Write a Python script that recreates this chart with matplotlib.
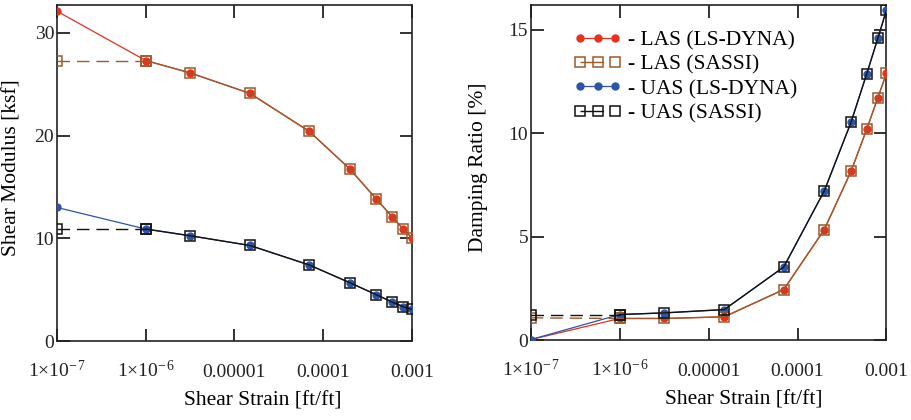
import numpy as np
import matplotlib
matplotlib.use("Agg")
import matplotlib.pyplot as plt

plt.rcParams['font.family'] = ['Liberation Serif', 'DejaVu Serif']
plt.rcParams['mathtext.fontset'] = 'custom'
plt.rcParams['mathtext.rm'] = 'Liberation Serif'
plt.rcParams['mathtext.it'] = 'Liberation Serif'
plt.rcParams['font.size'] = 14

# shear strain [ft/ft]
strain = [1e-7, 1e-6, 3.16e-6, 1.5e-5, 7e-5, 2e-4, 4e-4, 6e-4, 8e-4, 1e-3]

# shear modulus [ksf]
G_las_dyna = [32.1, 27.3, 26.1, 24.1, 20.4, 16.75, 13.8, 12.1, 10.9, 10.06]
G_las_sassi = [27.3, 27.3, 26.1, 24.1, 20.4, 16.75, 13.8, 12.1, 10.9, 10.06]
G_uas_dyna = [13.0, 10.9, 10.25, 9.3, 7.4, 5.68, 4.5, 3.8, 3.34, 3.09]
G_uas_sassi = [10.9, 10.9, 10.25, 9.3, 7.4, 5.68, 4.5, 3.8, 3.34, 3.09]

# damping ratio [%]
D_las_dyna = [0.03, 1.05, 1.05, 1.13, 2.45, 5.35, 8.17, 10.2, 11.72, 12.9]
D_las_sassi = [1.08, 1.05, 1.05, 1.13, 2.45, 5.35, 8.17, 10.2, 11.72, 12.9]
D_uas_dyna = [0.03, 1.24, 1.32, 1.48, 3.54, 7.22, 10.54, 12.88, 14.59, 15.96]
D_uas_sassi = [1.24, 1.24, 1.32, 1.48, 3.54, 7.22, 10.54, 12.88, 14.59, 15.96]

xticks = [1e-7, 1e-6, 1e-5, 1e-4, 1e-3]
xticklabels = [r"$1{\times}10^{-\,7}$", r"$1{\times}10^{-\,6}$", "0.00001", "0.0001", "0.001"]

red = '#e8301c'
brown = '#9c5a2c'
blue = '#2a55a8'
black = '#111111'


def draw_pair(ax, y_dyna, y_sassi, c_dyna, c_sassi, lab_dyna, lab_sassi):
    ax.plot(strain, y_dyna, color=c_dyna, lw=0.9, marker='o', ms=5,
            mfc=c_dyna, mec=c_dyna, label=lab_dyna, zorder=3)
    # SASSI: dashed first segment, solid afterwards
    ax.plot(strain[:2], y_sassi[:2], color=c_sassi, lw=1.0, ls=(0, (9, 5)),
            marker='s', ms=7.5, mfc='none', mec=c_sassi, mew=1.1, zorder=4)
    ax.plot(strain[1:], y_sassi[1:], color=c_sassi, lw=1.0, ls='-',
            marker='s', ms=7.5, mfc='none', mec=c_sassi, mew=1.1, zorder=4)
    # legend-only entry (solid, then gap, like the original key)
    ax.plot([], [], color=c_sassi, lw=1.0, ls=(0, (17, 17)), marker='s', ms=7,
            mfc='none', mec=c_sassi, mew=1.1, label=lab_sassi)


def style_axis(ax, yticks, ymax):
    ax.set_xscale('log')
    ax.set_xlim(1e-7, 1e-3)
    ax.set_ylim(0, ymax)
    ax.set_xticks(xticks)
    ax.set_xticklabels(xticklabels)
    ax.minorticks_off()
    ax.set_yticks(yticks)
    ax.tick_params(direction='in', length=9, width=1.3, top=True, right=True,
                   colors='#222222', labelcolor='#222222', labelsize=14)
    ax.tick_params(axis='y', pad=2)
    ax.tick_params(axis='x', pad=26)
    for lbl in ax.get_xticklabels():
        lbl.set_verticalalignment('baseline')
    for s in ax.spines.values():
        s.set_linewidth(1.2)
        s.set_color('#222222')


fig = plt.figure(figsize=(9.12, 4.2), dpi=100)
ax1 = fig.add_axes([0.0625, 0.188, 0.389, 0.8])
ax2 = fig.add_axes([0.582, 0.190, 0.390, 0.798])

draw_pair(ax1, G_las_dyna, G_las_sassi, red, brown, '- LAS (LS-DYNA)', '- LAS (SASSI)')
draw_pair(ax1, G_uas_dyna, G_uas_sassi, blue, black, '- UAS (LS-DYNA)', '- UAS (SASSI)')
style_axis(ax1, [0, 10, 20, 30], 32.7)
ax1.set_ylabel("Shear Modulus [ksf]", fontsize=15.5)
ax1.set_xlabel("Shear Strain [ft/ft]", fontsize=15.5)
ax1.yaxis.set_label_coords(-0.10, 0.516)
ax1.xaxis.set_label_coords(0.579, -0.15)

draw_pair(ax2, D_las_dyna, D_las_sassi, red, brown, '- LAS (LS-DYNA)', '- LAS (SASSI)')
draw_pair(ax2, D_uas_dyna, D_uas_sassi, blue, black, '- UAS (LS-DYNA)', '- UAS (SASSI)')
style_axis(ax2, [0, 5, 10, 15], 16.2)
ax2.set_ylabel("Damping Ratio [%]", fontsize=15.5)
ax2.set_xlabel("Shear Strain [ft/ft]", fontsize=15.5)
ax2.yaxis.set_label_coords(-0.12, 0.515)
ax2.xaxis.set_label_coords(0.598, -0.15)

ax2.legend(loc='upper left', bbox_to_anchor=(0.121, 0.925), frameon=False,
           numpoints=3, handlelength=2.2, handletextpad=0.3, labelspacing=0.2,
           borderpad=0, borderaxespad=0, fontsize=15.5)

fig.savefig("out.png", dpi=100)
